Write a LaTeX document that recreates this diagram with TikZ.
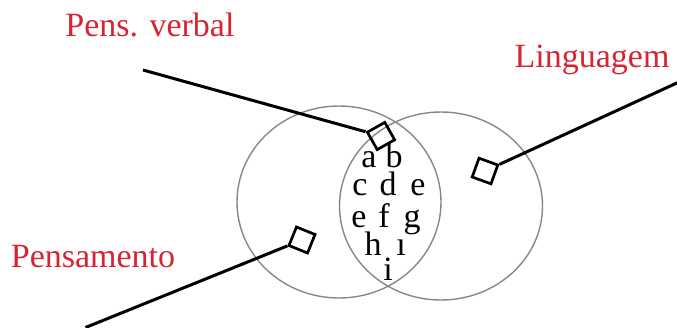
\documentclass[tikz,border=0pt]{standalone}
\usepackage{fontspec}
\setmainfont{Liberation Serif}
\usetikzlibrary{shapes.geometric}
\definecolor{labelred}{RGB}{215,35,50}
\definecolor{setgray}{RGB}{135,135,135}
\begin{document}
\begin{tikzpicture}[x=1pt,y=-1pt,
  lbl/.style={text=labelred, anchor=base, inner sep=0pt, font=\fontsize{34}{40}\selectfont},
  ltr/.style={anchor=base, inner sep=0pt, font=\fontsize{34}{40}\selectfont},
  setshape/.style={draw=setgray, line width=1.4pt, ellipse, inner sep=0pt},
  marker/.style={draw=black, line width=2.7pt, minimum size=20pt, inner sep=0pt, shape=rectangle},
  link/.style={draw=black, line width=3pt}]
\useasboundingbox (0,0) rectangle (677,327);
% sets
\node[setshape, minimum width=204pt, minimum height=192pt] (leftset) at (339,202) {};
\node[setshape, minimum width=203pt, minimum height=188pt] (rightset) at (441,206) {};
% labels
\node[lbl] (pv) at (150,36) {Pens. verbal};
\node[lbl] (lg) at (592,67) {Linguagem};
\node[lbl] (ps) at (93,267) {Pensamento};
% markers
\node[marker, rotate=29.5] (mA) at (381,136) {};
\node[marker, rotate=-20] (mB) at (485,171) {};
\node[marker, rotate=-22] (mC) at (302,240) {};
% free ends
\coordinate (pvEnd) at (143,70);
\coordinate (lgEnd) at (679,82);
\coordinate (psEnd) at (85.5,327.5);
\draw[link] (pvEnd) -- (mA);
\draw[link] (mB) -- (lgEnd);
\draw[link] (mC) -- (psEnd);
% letters
\node[ltr] (la) at (369,167) {a};
\node[ltr] (lb) at (394,167) {b};
\node[ltr] (lc) at (360,195) {c};
\node[ltr] (ld) at (388,195) {d};
\node[ltr] (le) at (418,195) {e};
\node[ltr] (le2) at (359,227) {e};
\node[ltr] (lf) at (384,227) {f};
\node[ltr] (lg2) at (412,227) {g};
\node[ltr] (lh) at (373,255) {h};
\node[ltr] (li) at (401,255) {\i};
\node[ltr] (lj) at (388,280) {i};
\end{tikzpicture}
\end{document}
